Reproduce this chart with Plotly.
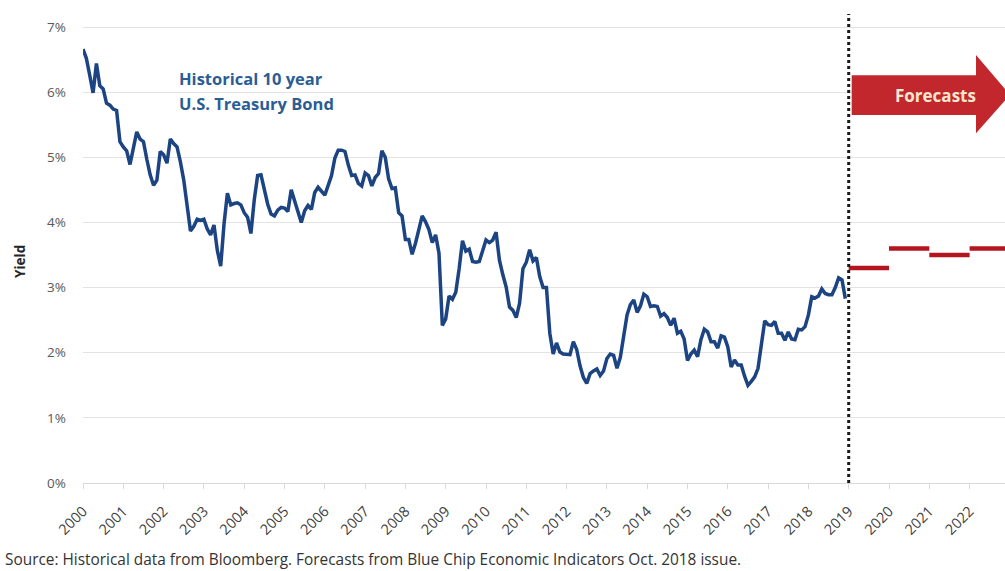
import plotly.graph_objects as go

# Monthly 10-year U.S. Treasury yields (%), January..December of each year
years = list(range(2000, 2019))
yields_by_year = {
    2000: [6.66, 6.52, 6.26, 5.99, 6.44, 6.10, 6.05, 5.83, 5.80, 5.74, 5.72, 5.24],
    2001: [5.16, 5.10, 4.89, 5.14, 5.39, 5.28, 5.24, 4.97, 4.73, 4.57, 4.65, 5.09],
    2002: [5.04, 4.91, 5.28, 5.21, 5.16, 4.93, 4.65, 4.26, 3.87, 3.94, 4.05, 4.03],
    2003: [4.05, 3.90, 3.81, 3.96, 3.57, 3.33, 3.98, 4.45, 4.27, 4.29, 4.30, 4.27],
    2004: [4.15, 4.08, 3.83, 4.35, 4.72, 4.73, 4.50, 4.28, 4.13, 4.10, 4.19, 4.23],
    2005: [4.22, 4.17, 4.50, 4.34, 4.14, 4.00, 4.18, 4.26, 4.20, 4.46, 4.54, 4.47],
    2006: [4.42, 4.57, 4.72, 4.99, 5.11, 5.11, 5.09, 4.88, 4.72, 4.73, 4.60, 4.56],
    2007: [4.76, 4.72, 4.56, 4.69, 4.75, 5.10, 5.00, 4.67, 4.52, 4.53, 4.15, 4.10],
    2008: [3.74, 3.74, 3.51, 3.68, 3.88, 4.10, 4.01, 3.89, 3.69, 3.81, 3.53, 2.42],
    2009: [2.52, 2.87, 2.82, 2.93, 3.29, 3.72, 3.56, 3.59, 3.40, 3.39, 3.40, 3.59],
    2010: [3.73, 3.69, 3.73, 3.85, 3.42, 3.20, 3.01, 2.70, 2.65, 2.54, 2.76, 3.29],
    2011: [3.39, 3.58, 3.41, 3.46, 3.17, 3.00, 3.00, 2.30, 1.98, 2.15, 2.01, 1.98],
    2012: [1.97, 1.97, 2.17, 2.05, 1.80, 1.62, 1.53, 1.68, 1.72, 1.75, 1.65, 1.72],
    2013: [1.91, 1.98, 1.96, 1.76, 1.93, 2.30, 2.58, 2.74, 2.81, 2.62, 2.72, 2.90],
    2014: [2.86, 2.71, 2.72, 2.71, 2.56, 2.60, 2.54, 2.42, 2.53, 2.30, 2.33, 2.21],
    2015: [1.88, 1.98, 2.04, 1.94, 2.20, 2.36, 2.32, 2.17, 2.17, 2.07, 2.26, 2.24],
    2016: [2.09, 1.78, 1.89, 1.81, 1.81, 1.64, 1.50, 1.56, 1.63, 1.76, 2.14, 2.49],
    2017: [2.43, 2.42, 2.48, 2.30, 2.30, 2.19, 2.32, 2.21, 2.20, 2.36, 2.35, 2.40],
    2018: [2.58, 2.86, 2.84, 2.87, 2.98, 2.91, 2.89, 2.89, 3.00, 3.15, 3.12, 2.83],
}

# Annual consensus forecasts (%)
forecast_years = [2019, 2020, 2021, 2022]
forecast_values = [3.3, 3.6, 3.5, 3.6]

tick_years = list(range(2000, 2023))
y_ticks = [0, 1, 2, 3, 4, 5, 6, 7]
y_tick_labels = [f"{v}%" for v in y_ticks]

# Build the monthly time axis in fractional years
hist_x, hist_y = [], []
for yr in years:
    for m, v in enumerate(yields_by_year[yr]):
        hist_x.append(yr + m / 12)
        hist_y.append(v)

# Forecast steps: one horizontal segment per calendar year
fc_x, fc_y = [], []
for yr, v in zip(forecast_years, forecast_values):
    fc_x += [yr, yr + 1, None]
    fc_y += [v, v, None]

W, H = 1005, 571
L, R, T, B = 83, 0, 14, 88
PX_PER_YEAR = 40.3
X_MIN, X_MAX = 2000, 2000 + (W - L - R) / PX_PER_YEAR
Y_MIN, Y_MAX = 0, 7.2

def px_x(px):
    return (px - L) / (W - L - R)

def px_y(py):
    return (H - B - py) / (H - T - B)

fig = go.Figure()
fig.add_trace(go.Scatter(
    x=fc_x, y=fc_y, mode="lines",
    line=dict(color="#b3161e", width=4.5),
    hoverinfo="skip", showlegend=False,
))
fig.add_trace(go.Scatter(
    x=hist_x, y=hist_y, mode="lines",
    line=dict(color="#1c4482", width=3.5),
    showlegend=False,
))

# Boundary between history and forecasts
fig.add_shape(type="line", xref="x", yref="paper", x0=2019, x1=2019, y0=0, y1=1,
              line=dict(color="#1a1a1a", width=3, dash="dot"), layer="above")

# Forecast arrow
x0a = 2019 + 3 / PX_PER_YEAR
xb = 2000 + (976 - L) / PX_PER_YEAR
xt = 2000 + (1010 - L) / PX_PER_YEAR
yt, yb = 6.26, 5.65
yht, yhb, ym = 6.57, 5.37, 5.96
fig.add_shape(
    type="path", xref="x", yref="y",
    path=(f"M {x0a},{yt} L {xb},{yt} L {xb},{yht} L {xt},{ym} "
          f"L {xb},{yhb} L {xb},{yb} L {x0a},{yb} Z"),
    fillcolor="#c1272d", line=dict(width=0), layer="above",
)

def label(text, x, y, size, color, xanchor="center", **kw):
    fig.add_annotation(x=px_x(x), y=px_y(y), xref="paper", yref="paper",
                       xanchor=xanchor, yanchor="middle", text=text,
                       showarrow=False,
                       font=dict(family="Open Sans", size=size, color=color), **kw)

label("<b>Forecasts</b>", 935, 95, 17, "#f6e7cf")
label("<b>Historical 10 year</b>", 177, 78, 16.5, "#2b5d95", xanchor="left")
label("<b>U.S. Treasury Bond</b>", 177, 103, 16.5, "#2b5d95", xanchor="left")
label("<b>Yield</b>", 20, 262, 13.5, "#262626", textangle=-90)
label("Source: Historical data from Bloomberg. Forecasts from Blue Chip Economic Indicators Oct. 2018 issue.",
      4, 559, 15.4, "#333333", xanchor="left", borderpad=0)

fig.update_layout(
    width=W, height=H,
    margin=dict(l=L, r=R, t=T, b=B, pad=0),
    paper_bgcolor="white", plot_bgcolor="white",
    xaxis=dict(
        range=[X_MIN, X_MAX], tickmode="array", tickvals=tick_years,
        ticktext=[str(y) for y in tick_years], tickangle=-45,
        showgrid=False, zeroline=False,
        showline=True, linecolor="#d9d9d9", linewidth=1,
        ticks="outside", ticklen=5, tickcolor="#d9d9d9",
        ticklabelstandoff=8,
        tickfont=dict(family="Open Sans", size=14.5, color="#404040"),
    ),
    yaxis=dict(
        range=[Y_MIN, Y_MAX], tickmode="array", tickvals=y_ticks,
        ticktext=y_tick_labels, showgrid=True, gridcolor="#e3e3e3", gridwidth=1,
        zeroline=False, showline=False, ticks="",
        ticklabelstandoff=16,
        tickfont=dict(family="Open Sans", size=13.5, color="#595959"),
    ),
)

fig.write_html("out.html")
